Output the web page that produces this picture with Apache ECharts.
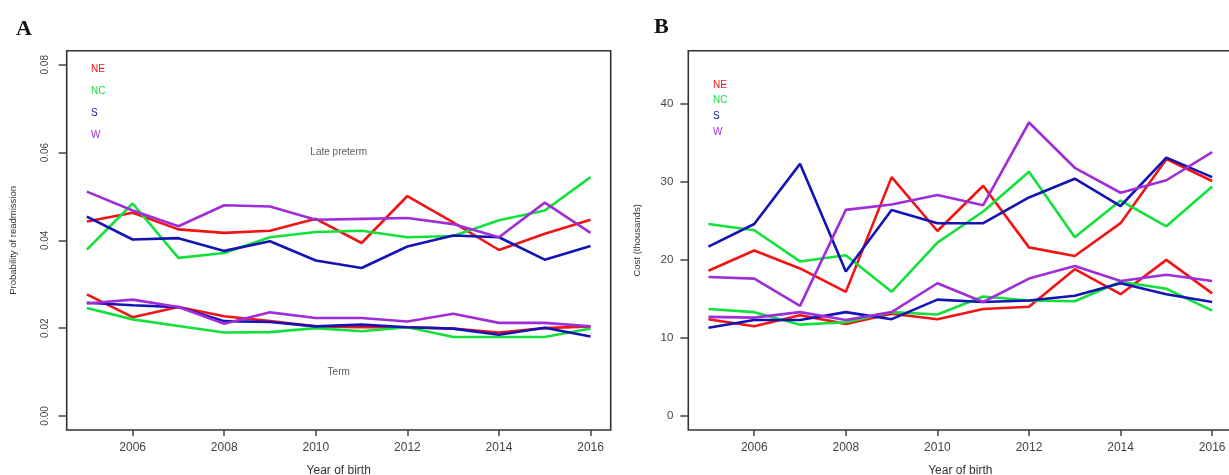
<!DOCTYPE html>
<html>
<head>
<meta charset="utf-8">
<script src="https://cdn.jsdelivr.net/npm/echarts@6/dist/echarts.min.js"></script>
<style>
    html, body { margin: 0; padding: 0; background: #fff; }
    #chart { width: 1229px; height: 475px; }
</style>
</head>
<body>
<div id="chart"></div>
<script>
var years = [2005, 2006, 2007, 2008, 2009, 2010, 2011, 2012, 2013, 2014, 2015, 2016];
var regions = ['NE', 'NC', 'S', 'W'];
var colors = ['#f01414', '#14e03c', '#1414b4', '#a02ed8'];
var xTicks = [2006, 2008, 2010, 2012, 2014, 2016];
var probTicks = [0, 0.02, 0.04, 0.06, 0.08];
var costTicks = [0, 10, 20, 30, 40];

// panel A - probability of readmission
var lateNE = [0.0443, 0.0463, 0.0425, 0.0417, 0.0422, 0.0449, 0.0394, 0.0501, 0.0441, 0.0378, 0.0415, 0.0447];
var lateNC = [0.0379, 0.0484, 0.0360, 0.0371, 0.0407, 0.0419, 0.0422, 0.0407, 0.0410, 0.0446, 0.0468, 0.0544];
var lateS = [0.0454, 0.0402, 0.0405, 0.0376, 0.0398, 0.0354, 0.0337, 0.0386, 0.0411, 0.0407, 0.0356, 0.0387];
var lateW = [0.0511, 0.0468, 0.0432, 0.0480, 0.0477, 0.0447, 0.0449, 0.0451, 0.0437, 0.0407, 0.0486, 0.0417];
var termNE = [0.0277, 0.0225, 0.0248, 0.0227, 0.0216, 0.0204, 0.0202, 0.0202, 0.0199, 0.0190, 0.0200, 0.0204];
var termNC = [0.0246, 0.0220, 0.0205, 0.0190, 0.0191, 0.0200, 0.0193, 0.0202, 0.0180, 0.0180, 0.0180, 0.0199];
var termS = [0.0258, 0.0252, 0.0248, 0.0216, 0.0214, 0.0204, 0.0208, 0.0202, 0.0199, 0.0185, 0.0201, 0.0181];
var termW = [0.0256, 0.0265, 0.0248, 0.0210, 0.0236, 0.0223, 0.0223, 0.0215, 0.0233, 0.0212, 0.0212, 0.0204];

// panel B - cost (thousands)
var costLateNE = [18.6, 21.2, 18.9, 15.9, 30.6, 23.7, 29.5, 21.6, 20.5, 24.7, 32.9, 30.1];
var costLateNC = [24.6, 23.8, 19.8, 20.6, 15.9, 22.2, 26.2, 31.3, 22.9, 27.6, 24.3, 29.4];
var costLateS = [21.7, 24.6, 32.3, 18.5, 26.4, 24.7, 24.7, 28.0, 30.4, 26.9, 33.1, 30.6];
var costLateW = [17.8, 17.6, 14.1, 26.4, 27.1, 28.3, 27.0, 37.6, 31.8, 28.6, 30.2, 33.8];
var costTermNE = [12.4, 11.5, 12.9, 11.8, 13.1, 12.4, 13.7, 14.0, 18.8, 15.6, 20.0, 15.7];
var costTermNC = [13.7, 13.3, 11.7, 12.0, 13.3, 13.0, 15.3, 14.8, 14.7, 17.2, 16.3, 13.5];
var costTermS = [11.3, 12.3, 12.3, 13.3, 12.4, 14.9, 14.6, 14.8, 15.4, 17.0, 15.6, 14.6];
var costTermW = [12.7, 12.6, 13.3, 12.3, 13.3, 17.0, 14.6, 17.6, 19.2, 17.3, 18.1, 17.3];

var font = '"Liberation Sans", Arial, sans-serif';

function pairs(vals) {
    return vals.map(function (v, i) { return [years[i], v]; });
}

function lineSeries(name, vals, idx, color) {
    return {
        name: name,
        type: 'line',
        xAxisIndex: idx,
        yAxisIndex: idx,
        data: pairs(vals),
        symbol: 'none',
        silent: true,
        lineStyle: { color: color, width: 2.6 },
        itemStyle: { color: color },
        animation: false
    };
}

function xAxis(idx) {
    return {
        type: 'value',
        gridIndex: idx,
        min: 2004.56,
        max: 2016.44,
        name: 'Year of birth',
        nameLocation: 'middle',
        nameGap: 35,
        nameTextStyle: { color: '#333', fontSize: 12, fontFamily: font },
        axisLine: { show: false, onZero: false },
        splitLine: { show: false },
        axisTick: { show: true, length: 6, lineStyle: { color: '#444', width: 1.5 }, customValues: xTicks },
        axisLabel: {
            color: '#444', fontSize: 12, fontFamily: font, margin: 12,
            customValues: xTicks,
            formatter: function (v) { return String(v); }
        }
    };
}

var chart = echarts.init(document.getElementById('chart'));

var series = [];
var lateA = [lateNE, lateNC, lateS, lateW];
var termA = [termNE, termNC, termS, termW];
var lateB = [costLateNE, costLateNC, costLateS, costLateW];
var termB = [costTermNE, costTermNC, costTermS, costTermW];
regions.forEach(function (r, i) {
    series.push(lineSeries(r, lateA[i], 0, colors[i]));
    series.push(lineSeries(r, termA[i], 0, colors[i]));
});
regions.forEach(function (r, i) {
    series.push(lineSeries(r, lateB[i], 1, colors[i]));
    series.push(lineSeries(r, termB[i], 1, colors[i]));
});

// group labels written in data coords, like R's text()
series.push({
    type: 'scatter',
    xAxisIndex: 0,
    yAxisIndex: 0,
    symbolSize: 0,
    silent: true,
    data: [
        { name: 'Late preterm', value: [2010.5, 0.06] },
        { name: 'Term', value: [2010.5, 0.01] }
    ],
    label: {
        show: true,
        position: 'inside',
        formatter: '{b}',
        color: '#333',
        fontSize: 10,
        fontFamily: font
    }
});

function legendFor(left, top, gap) {
    return {
        left: left,
        top: top,
        orient: 'vertical',
        icon: 'none',
        itemWidth: 1,
        itemHeight: 12,
        itemGap: gap,
        selectedMode: false,
        data: regions.map(function (r, i) {
            return { name: r, textStyle: { color: colors[i] } };
        }),
        textStyle: { fontSize: 10, fontFamily: font, lineHeight: 12 }
    };
}

var option = {
    backgroundColor: '#fff',
    animation: false,
    title: [
        { text: 'A', left: 11, top: 13, textStyle: { fontFamily: '"Liberation Serif", "Times New Roman", serif', fontWeight: 'bold', fontSize: 22, color: '#111' } },
        { text: 'B', left: 649, top: 11, textStyle: { fontFamily: '"Liberation Serif", "Times New Roman", serif', fontWeight: 'bold', fontSize: 22, color: '#111' } }
    ],
    legend: [legendFor(80, 58, 10), legendFor(702, 74, 3.7)],
    grid: [
        { left: 66.7, top: 50.7, width: 544, height: 379.3, show: true, borderColor: '#333', borderWidth: 1.6, backgroundColor: 'transparent', outerBoundsMode: 'none' },
        { left: 688.3, top: 50.7, width: 544, height: 379.3, show: true, borderColor: '#333', borderWidth: 1.6, backgroundColor: 'transparent', outerBoundsMode: 'none' }
    ],
    xAxis: [xAxis(0), xAxis(1)],
    yAxis: [{
        type: 'value',
        gridIndex: 0,
        min: -0.0032,
        max: 0.0832,
        name: 'Probability of readmission',
        nameLocation: 'middle',
        nameGap: 48,
        nameTextStyle: { color: '#333', fontSize: 9.5, fontFamily: font },
        axisLine: { show: false, onZero: false },
        splitLine: { show: false },
        axisTick: { show: true, length: 8, lineStyle: { color: '#444', width: 1.5 }, customValues: probTicks },
        axisLabel: {
            color: '#444', fontSize: 10, fontFamily: font, margin: 16, rotate: 90,
            customValues: probTicks,
            formatter: function (v) { return v.toFixed(2); }
        }
    }, {
        type: 'value',
        gridIndex: 1,
        min: -1.8,
        max: 46.8,
        name: 'Cost (thousands)',
        nameLocation: 'middle',
        nameGap: 46,
        nameTextStyle: { color: '#333', fontSize: 9.5, fontFamily: font },
        axisLine: { show: false, onZero: false },
        splitLine: { show: false },
        axisTick: { show: true, length: 8, lineStyle: { color: '#444', width: 1.5 }, customValues: costTicks },
        axisLabel: { color: '#444', fontSize: 11.5, fontFamily: font, margin: 15, customValues: costTicks }
    }],
    series: series
};

chart.setOption(option);
</script>
</body>
</html>
